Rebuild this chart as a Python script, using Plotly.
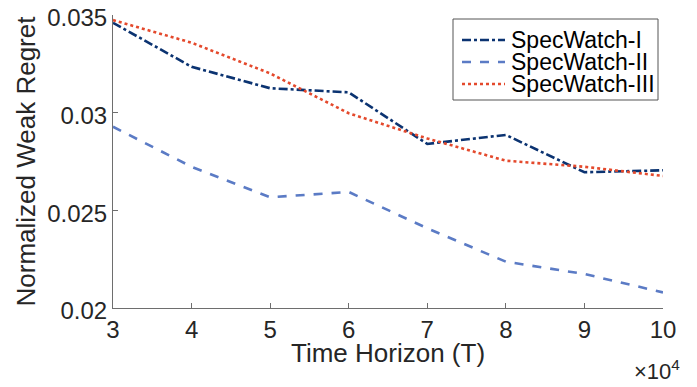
import plotly.graph_objects as go

horizon = [3, 4, 5, 6, 7, 8, 9, 10]  # x 10^4
specwatch_1 = [0.0346, 0.03235, 0.03125, 0.03104, 0.0284, 0.02886, 0.02695, 0.02705]
specwatch_2 = [0.02928, 0.02723, 0.02567, 0.02594, 0.02408, 0.02237, 0.02174, 0.0208]
specwatch_3 = [0.03474, 0.03358, 0.03201, 0.02997, 0.02868, 0.02754, 0.02723, 0.02676]
y_ticks = [0.02, 0.025, 0.03, 0.035]
y_ticktext = ["0.02", "0.025", "0.03", "0.035"]
series_names = ["SpecWatch-I", "SpecWatch-II", "SpecWatch-III"]
series_colors = ["#0b3371", "#5b7bc5", "#e4492c"]
series_dash = ["dashdot", "dash", "dot"]

FONT = "Liberation Sans, Arial, Helvetica, sans-serif"
TXT = "#262626"
AX = "#6e6e6e"
OFF = 8  # default page body margin
W, H = 697, 387
# target plot area in screenshot pixels: x 113..663, y 15..308
ML, MT = 113 - OFF, 15 - OFF
MR, MB = W - (663 - OFF), H - (308 - OFF)
PW, PH = W - ML - MR, H - MT - MB


def px_x(p):
    return (p - OFF - ML) / PW


def px_y(p):
    return (H - MB - (p - OFF)) / PH


fig = go.Figure()
for name, vals, col, dsh in zip(series_names, [specwatch_1, specwatch_2, specwatch_3],
                                series_colors, series_dash):
    fig.add_trace(go.Scatter(x=horizon, y=vals, mode="lines", name=name,
                             line=dict(color=col, width=2.6, dash=dsh)))

fig.update_layout(
    width=W, height=H,
    margin=dict(l=ML, r=MR, t=MT, b=MB, autoexpand=False),
    paper_bgcolor="white", plot_bgcolor="white",
    font=dict(family=FONT, color=TXT, size=24),
    showlegend=False,
    xaxis=dict(range=[3, 10], tickvals=horizon, ticks="inside", ticklen=5,
               tickcolor=AX, showline=True, linecolor=AX, linewidth=1,
               showgrid=False, zeroline=False, mirror=False, automargin=False,
               ticklabeloverflow="allow",
               tickfont=dict(size=24, color=TXT)),
    yaxis=dict(range=[0.02, 0.035], tickvals=y_ticks, ticktext=y_ticktext,
               ticks="inside", ticklen=5, tickcolor=AX, showline=True,
               linecolor=AX, linewidth=1, showgrid=False, zeroline=False,
               automargin=False, ticklabeloverflow="allow", ticklabelshift=3,
               tickfont=dict(size=24, color=TXT)),
)

# axis titles
fig.add_annotation(x=0.5, y=px_y(353), xref="paper", yref="paper", xanchor="center",
                   yanchor="middle", showarrow=False, text="Time Horizon (T)",
                   font=dict(size=26, color=TXT))
fig.add_annotation(x=px_x(25), y=0.5, xref="paper", yref="paper", xanchor="center",
                   yanchor="middle", showarrow=False, text="Normalized Weak Regret",
                   textangle=-90, font=dict(size=26, color=TXT))
fig.add_annotation(x=px_x(682), y=px_y(370), xref="paper", yref="paper", xanchor="right",
                   yanchor="middle", showarrow=False,
                   text="×10<sup>4</sup>", font=dict(size=22, color=TXT))

# legend box
fig.add_shape(type="rect", xref="paper", yref="paper", x0=px_x(453), x1=px_x(658),
              y0=px_y(19), y1=px_y(100), line=dict(color="#555555", width=1),
              fillcolor="white", layer="above")
rows = [40, 62, 84]
for name, col, dsh, ry in zip(series_names, series_colors, series_dash, rows):
    fig.add_shape(type="line", xref="paper", yref="paper", x0=px_x(462), x1=px_x(505),
                  y0=px_y(ry), y1=px_y(ry), line=dict(color=col, width=2.6, dash=dsh),
                  layer="above")
    fig.add_annotation(x=px_x(509), y=px_y(ry), xref="paper", yref="paper",
                       xanchor="left", yanchor="middle", showarrow=False, text=name,
                       font=dict(size=23, color="black"))

fig.write_html("out.html")
